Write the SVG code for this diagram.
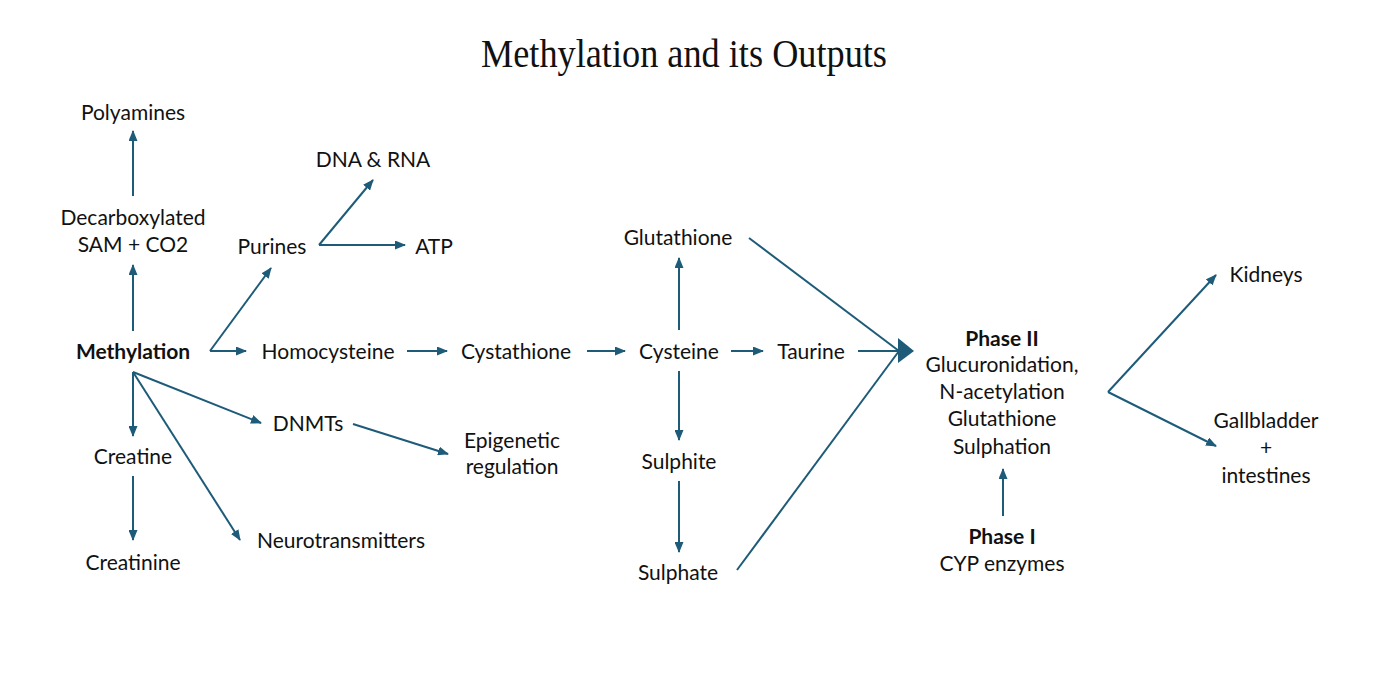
<svg xmlns="http://www.w3.org/2000/svg" width="1400" height="681" viewBox="0 0 1400 681">
<defs>
<marker id="ah" markerUnits="userSpaceOnUse" markerWidth="11" markerHeight="9" refX="10" refY="4.5" orient="auto">
<path d="M0,0 L11,4.5 L0,9 z" fill="#1d5b79"/>
</marker>
<style>
.t{font-family:Lato,"Liberation Sans",sans-serif;font-size:21px;fill:#111;text-anchor:middle}
.b{font-weight:bold}
.title{font-family:"Liberation Serif",serif;font-size:40px;fill:#111;text-anchor:middle}
.c line,.c polyline{stroke:#1d5b79;stroke-width:2;fill:none}
.a{marker-end:url(#ah)}
</style>
</defs>
<rect width="1400" height="681" fill="#fff"/>
<text class="title" x="684" y="67" textLength="406" lengthAdjust="spacingAndGlyphs">Methylation and its Outputs</text>

<g class="c" id="connectors">
<line class="a" x1="133" y1="196" x2="133" y2="131"/>
<line class="a" x1="133" y1="331" x2="133" y2="265"/>
<line class="a" x1="210" y1="351" x2="271" y2="268"/>
<line class="a" x1="210" y1="351" x2="246" y2="351"/>
<line class="a" x1="319" y1="245" x2="373" y2="180"/>
<line class="a" x1="319" y1="245" x2="405" y2="245"/>
<line class="a" x1="407" y1="351" x2="447" y2="351"/>
<line class="a" x1="587" y1="351" x2="625" y2="351"/>
<line class="a" x1="731" y1="351" x2="763" y2="351"/>
<line class="a" x1="679" y1="330" x2="679" y2="258"/>
<line class="a" x1="679" y1="371" x2="679" y2="440"/>
<line class="a" x1="679" y1="481" x2="679" y2="552"/>
<line x1="858" y1="351" x2="900" y2="351"/>
<line x1="749" y1="238" x2="899" y2="351"/>
<line x1="737" y1="570" x2="899" y2="351"/>
<polygon points="898,338 914,351 898,363" fill="#1d5b79"/>
<line class="a" x1="1003" y1="516" x2="1003" y2="469"/>
<line class="a" x1="1108" y1="392" x2="1216" y2="275"/>
<line class="a" x1="1108" y1="392" x2="1216" y2="446"/>
<line class="a" x1="133" y1="372" x2="133" y2="436"/>
<line class="a" x1="133" y1="372" x2="261" y2="423"/>
<line class="a" x1="133" y1="372" x2="240" y2="540"/>
<line class="a" x1="133" y1="476" x2="133" y2="540"/>
<line class="a" x1="353" y1="424" x2="448" y2="454"/>
</g>

<g id="polyamines"><text class="t" x="133" y="120">Polyamines</text></g>
<g id="decarboxylated"><text class="t" x="133" y="225">Decarboxylated</text><text class="t" x="133" y="252">SAM + CO2</text></g>
<g id="methylation"><text class="t b" x="133" y="359">Methylation</text></g>
<g id="purines"><text class="t" x="272" y="254">Purines</text></g>
<g id="dna-rna"><text class="t" x="373" y="167">DNA &amp; RNA</text></g>
<g id="atp"><text class="t" x="434" y="254">ATP</text></g>
<g id="homocysteine"><text class="t" x="328" y="359">Homocysteine</text></g>
<g id="cystathione"><text class="t" x="516" y="359">Cystathione</text></g>
<g id="cysteine"><text class="t" x="679" y="359">Cysteine</text></g>
<g id="taurine"><text class="t" x="811" y="359">Taurine</text></g>
<g id="glutathione"><text class="t" x="678" y="245">Glutathione</text></g>
<g id="sulphite"><text class="t" x="679" y="469">Sulphite</text></g>
<g id="sulphate"><text class="t" x="678" y="580">Sulphate</text></g>
<g id="phase2"><text class="t b" x="1002" y="346">Phase II</text><text class="t" x="1002" y="372">Glucuronidation,</text><text class="t" x="1002" y="399">N-acetylation</text><text class="t" x="1002" y="426">Glutathione</text><text class="t" x="1002" y="454">Sulphation</text></g>
<g id="phase1"><text class="t b" x="1002" y="544">Phase I</text><text class="t" x="1002" y="571">CYP enzymes</text></g>
<g id="kidneys"><text class="t" x="1266" y="282">Kidneys</text></g>
<g id="gallbladder"><text class="t" x="1266" y="428">Gallbladder</text><text class="t" x="1266" y="455">+</text><text class="t" x="1266" y="483">intestines</text></g>
<g id="creatine"><text class="t" x="133" y="464">Creatine</text></g>
<g id="creatinine"><text class="t" x="133" y="570">Creatinine</text></g>
<g id="dnmts"><text class="t" x="308" y="431">DNMTs</text></g>
<g id="epigenetic"><text class="t" x="512" y="448">Epigenetic</text><text class="t" x="512" y="474">regulation</text></g>
<g id="neurotransmitters"><text class="t" x="341" y="548">Neurotransmitters</text></g>
</svg>
